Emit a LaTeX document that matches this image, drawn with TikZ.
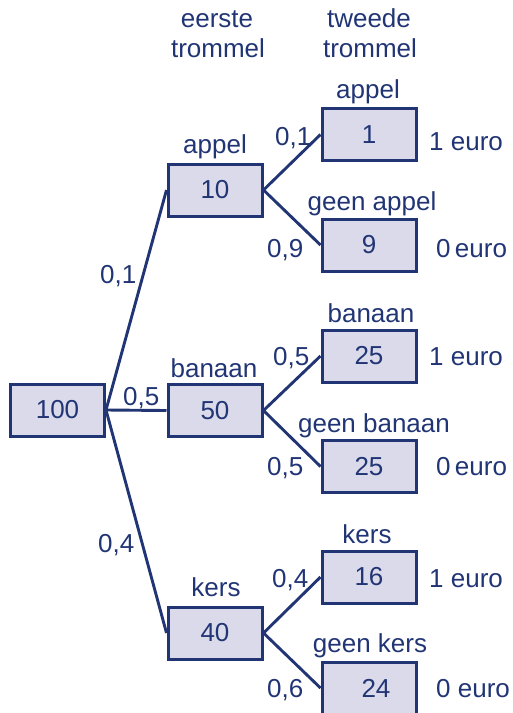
\documentclass[tikz,border=0pt]{standalone}
\usepackage{fontspec}
\setmainfont{Liberation Sans}
\definecolor{inkt}{RGB}{33,53,117}
\definecolor{vakje}{RGB}{218,218,234}
\begin{document}
\begin{tikzpicture}[x=1pt,y=-1pt,
    every node/.style={text=inkt,font=\fontsize{26}{30}\selectfont,inner sep=0pt},
    vak/.style={draw=inkt,fill=vakje,line width=3pt,minimum width=94pt,minimum height=52pt},
    tak/.style={draw=inkt,line width=2.9pt},
    tekst/.style={anchor=base},
    kans/.style={anchor=base west}]
    \useasboundingbox (0,0) rectangle (513,713);
    % kopjes
    \node[tekst] (k1a) at (217,27) {eerste};
    \node[tekst] (k1b) at (218,57) {trommel};
    \node[tekst] (k2a) at (369,27) {tweede};
    \node[tekst] (k2b) at (370,57) {trommel};
    % vakjes
    \node[vak] (R) at (57.5,410) {100};
    \node[vak] (A) at (215,190) {10};
    \node[vak] (B) at (215,410.5) {50};
    \node[vak] (K) at (215,633) {40};
    \node[vak] (A1) at (369,134.5) {1};
    \node[vak] (A0) at (369,245) {9};
    \node[vak] (B1) at (369,356) {25};
    \node[vak] (B0) at (369,466.5) {25};
    \node[vak] (K1) at (369,577) {16};
    \node[vak] (K0) at (369,688) {\hspace{14pt}24};
    % takken
    \draw[tak] (R.east) -- (A.west);
    \draw[tak] (R.east) -- (B.west);
    \draw[tak] (R.east) -- (K.west);
    \draw[tak] (A.east) -- (A1.west);
    \draw[tak] (A.east) -- (A0.west);
    \draw[tak] (B.east) -- (B1.west);
    \draw[tak] (B.east) -- (B0.west);
    \draw[tak] (K.east) -- (K1.west);
    \draw[tak] (K.east) -- (K0.west);
    % namen
    \node[tekst] (nA) at (215,153) {appel};
    \node[tekst] (nB) at (214,377) {banaan};
    \node[tekst] (nK) at (216,596) {kers};
    \node[tekst] (nA1) at (368,98) {appel};
    \node[tekst] (nA0) at (372,210) {geen appel};
    \node[tekst] (nB1) at (371,322) {banaan};
    \node[tekst] (nB0) at (374,432) {geen banaan};
    \node[tekst] (nK1) at (367,543) {kers};
    \node[tekst] (nK0) at (370,652) {geen kers};
    % kansen
    \node[kans] (pA) at (100,283) {0,1};
    \node[kans] (pB) at (123,405) {0,5};
    \node[kans] (pK) at (98,552) {0,4};
    \node[kans] (pA1) at (275,145) {0,1};
    \node[kans] (pA0) at (267,257) {0,9};
    \node[kans] (pB1) at (273,365) {0,5};
    \node[kans] (pB0) at (267,475) {0,5};
    \node[kans] (pK1) at (272,587) {0,4};
    \node[kans] (pK0) at (267,697) {0,6};
    % uitbetaling
    \node[kans] (eA1) at (429,150) {1 euro};
    \node[kans] (eA0) at (436,257) {0\,euro};
    \node[kans] (eB1) at (429,365) {1 euro};
    \node[kans] (eB0) at (436,475) {0\,euro};
    \node[kans] (eK1) at (429,587) {1 euro};
    \node[kans] (eK0) at (436,697) {0 euro};
\end{tikzpicture}
\end{document}
